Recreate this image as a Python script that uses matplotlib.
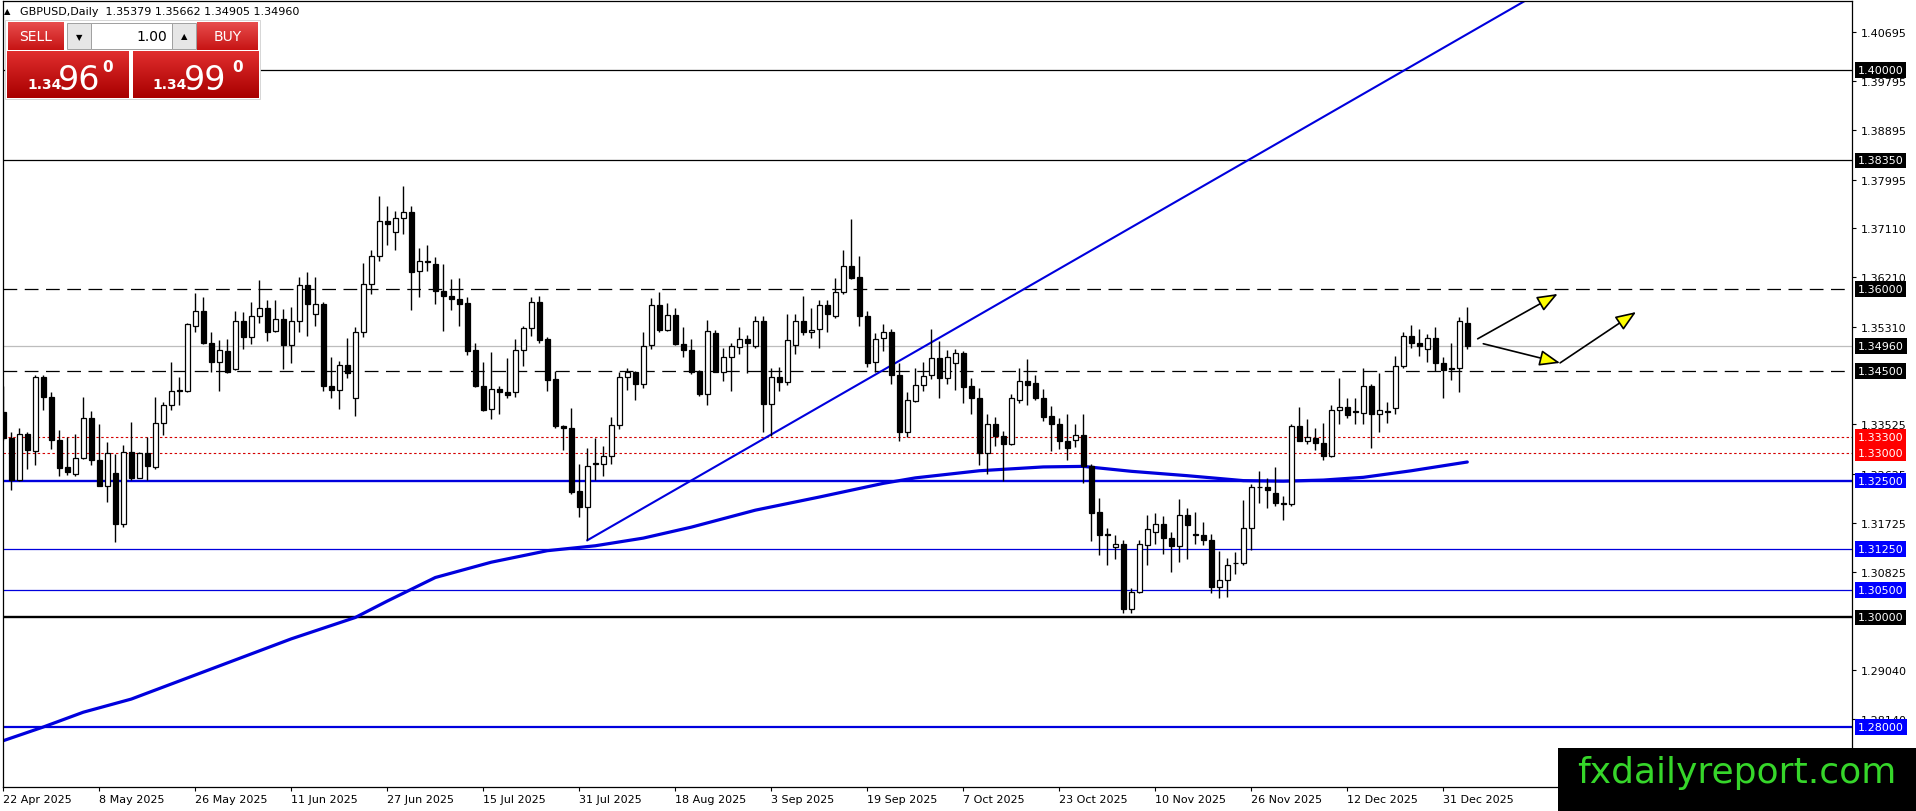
import numpy as np
import matplotlib
matplotlib.use("Agg")
import matplotlib.pyplot as plt
from matplotlib.patches import Rectangle
from matplotlib.transforms import blended_transform_factory, offset_copy

W_PX, H_PX = 1916, 812

# daily GBPUSD candles, bar 0 = 22 Apr 2025
opens = [
    1.3376, 1.3327, 1.3251, 1.3336, 1.3304, 1.3439, 1.3403, 1.3325, 1.3274, 1.3262,
    1.3291, 1.3365, 1.3288, 1.3241, 1.3263, 1.3170, 1.3302, 1.3255, 1.3301, 1.3275,
    1.3356, 1.3389, 1.3414, 1.3414, 1.3532, 1.3559, 1.3502, 1.3466, 1.3486, 1.3453,
    1.3541, 1.3513, 1.3550, 1.3566, 1.3524, 1.3546, 1.3497, 1.3541, 1.3608, 1.3554,
    1.3573, 1.3423, 1.3416, 1.3461, 1.3401, 1.3521, 1.3610, 1.3660, 1.3724, 1.3704,
    1.3730, 1.3741, 1.3632, 1.3651, 1.3646, 1.3597, 1.3587, 1.3582, 1.3574, 1.3488,
    1.3422, 1.3380, 1.3417, 1.3412, 1.3411, 1.3488, 1.3529, 1.3577, 1.3508, 1.3435,
    1.3350, 1.3347, 1.3231, 1.3202, 1.3282, 1.3280, 1.3295, 1.3351, 1.3440, 1.3449,
    1.3426, 1.3497, 1.3571, 1.3525, 1.3552, 1.3500, 1.3488, 1.3451, 1.3408, 1.3519,
    1.3449, 1.3475, 1.3494, 1.3508, 1.3495, 1.3541, 1.3390, 1.3440, 1.3431, 1.3497,
    1.3541, 1.3522, 1.3527, 1.3570, 1.3550, 1.3594, 1.3642, 1.3621, 1.3550, 1.3467,
    1.3510, 1.3522, 1.3443, 1.3339, 1.3395, 1.3425, 1.3442, 1.3474, 1.3438, 1.3464,
    1.3483, 1.3423, 1.3401, 1.3301, 1.3354, 1.3331, 1.3316, 1.3398, 1.3432, 1.3429,
    1.3401, 1.3368, 1.3354, 1.3322, 1.3324, 1.3333, 1.3276, 1.3192, 1.3152, 1.3129,
    1.3134, 1.3015, 1.3047, 1.3133, 1.3156, 1.3171, 1.3146, 1.3130, 1.3188, 1.3152,
    1.3151, 1.3142, 1.3056, 1.3068, 1.3099, 1.3099, 1.3163, 1.3238, 1.3238, 1.3227,
    1.3210, 1.3208, 1.3350, 1.3323, 1.3328, 1.3319, 1.3295, 1.3379, 1.3385, 1.3377,
    1.3373, 1.3422, 1.3371, 1.3378, 1.3382, 1.3459, 1.3514, 1.3501, 1.3491, 1.3510,
    1.3464, 1.3455, 1.3455, 1.35379]
highs = [
    1.3422, 1.3338, 1.3347, 1.3339, 1.3442, 1.3442, 1.3412, 1.3343, 1.3329, 1.3335,
    1.3403, 1.3377, 1.3354, 1.3321, 1.3298, 1.3315, 1.3357, 1.3303, 1.3329, 1.3402,
    1.3394, 1.3467, 1.3440, 1.3537, 1.3593, 1.3585, 1.3522, 1.3507, 1.3509, 1.3560,
    1.3558, 1.3577, 1.3617, 1.3580, 1.3579, 1.3563, 1.3567, 1.3621, 1.3631, 1.3621,
    1.3577, 1.3475, 1.3469, 1.3510, 1.3530, 1.3648, 1.3672, 1.3770, 1.3752, 1.3742,
    1.3788, 1.3752, 1.3674, 1.3680, 1.3659, 1.3646, 1.3618, 1.3620, 1.3586, 1.3502,
    1.3466, 1.3485, 1.3422, 1.3474, 1.3509, 1.3532, 1.3585, 1.3588, 1.3513, 1.3450,
    1.3351, 1.3383, 1.3281, 1.3309, 1.3328, 1.3313, 1.3367, 1.3449, 1.3456, 1.3450,
    1.3522, 1.3584, 1.3594, 1.3574, 1.3565, 1.3530, 1.3508, 1.3452, 1.3543, 1.3525,
    1.3492, 1.3501, 1.3530, 1.3516, 1.3550, 1.3550, 1.3455, 1.3458, 1.3554, 1.3555,
    1.3588, 1.3565, 1.3580, 1.3580, 1.3620, 1.3672, 1.3727, 1.3660, 1.3559, 1.3519,
    1.3536, 1.3527, 1.3464, 1.3412, 1.3456, 1.3467, 1.3527, 1.3505, 1.3488, 1.3491,
    1.3487, 1.3438, 1.3420, 1.3371, 1.3366, 1.3340, 1.3408, 1.3455, 1.3472, 1.3443,
    1.3417, 1.3386, 1.3365, 1.3371, 1.3353, 1.3371, 1.3280, 1.3218, 1.3163, 1.3151,
    1.3141, 1.3053, 1.3142, 1.3188, 1.3191, 1.3185, 1.3156, 1.3216, 1.3200, 1.3192,
    1.3175, 1.3153, 1.3122, 1.3109, 1.3120, 1.3215, 1.3243, 1.3267, 1.3254, 1.3274,
    1.3221, 1.3354, 1.3385, 1.3363, 1.3346, 1.3356, 1.3388, 1.3438, 1.3400, 1.3401,
    1.3456, 1.3426, 1.3447, 1.3393, 1.3478, 1.3521, 1.3535, 1.3527, 1.3518, 1.3531,
    1.3476, 1.3502, 1.3548, 1.35662]
lows = [
    1.3324, 1.3232, 1.3249, 1.3272, 1.3278, 1.3379, 1.3307, 1.3258, 1.3260, 1.3258,
    1.3290, 1.3278, 1.3240, 1.3211, 1.3137, 1.3166, 1.3252, 1.3254, 1.3251, 1.3272,
    1.3333, 1.3379, 1.3388, 1.3411, 1.3522, 1.3499, 1.3449, 1.3414, 1.3447, 1.3452,
    1.3491, 1.3499, 1.3538, 1.3505, 1.3522, 1.3454, 1.3464, 1.3522, 1.3515, 1.3533,
    1.3414, 1.3400, 1.3381, 1.3438, 1.3368, 1.3513, 1.3590, 1.3652, 1.3681, 1.3672,
    1.3701, 1.3561, 1.3585, 1.3632, 1.3573, 1.3524, 1.3562, 1.3532, 1.3480, 1.3421,
    1.3378, 1.3362, 1.3371, 1.3400, 1.3402, 1.3460, 1.3515, 1.3501, 1.3414, 1.3347,
    1.3306, 1.3226, 1.3183, 1.3141, 1.3251, 1.3258, 1.3280, 1.3344, 1.3415, 1.3397,
    1.3420, 1.3491, 1.3521, 1.3524, 1.3498, 1.3476, 1.3445, 1.3405, 1.3388, 1.3448,
    1.3432, 1.3414, 1.3482, 1.3446, 1.3493, 1.3339, 1.3332, 1.3414, 1.3425, 1.3481,
    1.3516, 1.3511, 1.3492, 1.3522, 1.3547, 1.3591, 1.3618, 1.3533, 1.3458, 1.3449,
    1.3486, 1.3426, 1.3323, 1.3329, 1.3393, 1.3414, 1.3436, 1.3400, 1.3427, 1.3415,
    1.3391, 1.3371, 1.3279, 1.3262, 1.3314, 1.3249, 1.3315, 1.3391, 1.3389, 1.3398,
    1.3359, 1.3305, 1.3307, 1.3287, 1.3311, 1.3246, 1.3139, 1.3114, 1.3096, 1.3107,
    1.3009, 1.3009, 1.3045, 1.3095, 1.3134, 1.3116, 1.3084, 1.3101, 1.3107, 1.3134,
    1.3133, 1.3044, 1.3036, 1.3038, 1.3079, 1.3095, 1.3123, 1.3209, 1.3200, 1.3204,
    1.3178, 1.3203, 1.3322, 1.3316, 1.3306, 1.3287, 1.3293, 1.3354, 1.3364, 1.3354,
    1.3354, 1.3310, 1.3339, 1.3356, 1.3372, 1.3455, 1.3492, 1.3477, 1.3467, 1.3450,
    1.3400, 1.3433, 1.3412, 1.34905]
closes = [
    1.3327, 1.3251, 1.3336, 1.3306, 1.3439, 1.3403, 1.3324, 1.3273, 1.3266, 1.3291,
    1.3365, 1.3287, 1.3241, 1.3301, 1.3170, 1.3302, 1.3255, 1.3301, 1.3276, 1.3356,
    1.3389, 1.3414, 1.3415, 1.3536, 1.3559, 1.3502, 1.3466, 1.3488, 1.3449, 1.3541,
    1.3513, 1.3550, 1.3566, 1.3522, 1.3546, 1.3497, 1.3541, 1.3608, 1.3573, 1.3573,
    1.3423, 1.3415, 1.3461, 1.3446, 1.3521, 1.3610, 1.3660, 1.3724, 1.3719, 1.3729,
    1.3741, 1.3631, 1.3651, 1.3649, 1.3597, 1.3588, 1.3582, 1.3573, 1.3487, 1.3422,
    1.3379, 1.3417, 1.3412, 1.3406, 1.3488, 1.3529, 1.3577, 1.3507, 1.3434, 1.3350,
    1.3347, 1.3230, 1.3202, 1.3277, 1.3280, 1.3295, 1.3351, 1.3440, 1.3449, 1.3426,
    1.3495, 1.3571, 1.3525, 1.3552, 1.3500, 1.3488, 1.3449, 1.3408, 1.3524, 1.3449,
    1.3475, 1.3495, 1.3508, 1.3501, 1.3541, 1.3390, 1.3440, 1.3431, 1.3506, 1.3541,
    1.3522, 1.3525, 1.3570, 1.3555, 1.3594, 1.3642, 1.3620, 1.3550, 1.3464, 1.3509,
    1.3521, 1.3442, 1.3339, 1.3398, 1.3425, 1.3441, 1.3474, 1.3437, 1.3476, 1.3483,
    1.3421, 1.3400, 1.3301, 1.3354, 1.3331, 1.3316, 1.3400, 1.3432, 1.3425, 1.3400,
    1.3366, 1.3354, 1.3322, 1.3309, 1.3333, 1.3276, 1.3191, 1.3150, 1.3150, 1.3134,
    1.3015, 1.3047, 1.3134, 1.3161, 1.3171, 1.3146, 1.3130, 1.3188, 1.3169, 1.3150,
    1.3142, 1.3056, 1.3068, 1.3095, 1.3100, 1.3163, 1.3238, 1.3239, 1.3232, 1.3209,
    1.3208, 1.3350, 1.3323, 1.3329, 1.3318, 1.3295, 1.3379, 1.3385, 1.3370, 1.3375,
    1.3422, 1.3371, 1.3379, 1.3375, 1.3459, 1.3514, 1.3501, 1.3496, 1.3511, 1.3464,
    1.3452, 1.3454, 1.3541, 1.34960]

# moving average (bar index, value)
ma_bars = [0, 5, 10, 16, 22, 30, 36, 44, 48, 54, 61, 68, 74, 80, 86, 94, 102, 110,
           114, 122, 130, 135, 141, 148, 155, 160, 165, 170, 176, 183]
ma_vals = [1.2775, 1.2800, 1.2827, 1.2851, 1.2884, 1.2928, 1.2961, 1.3000, 1.3030,
           1.3073, 1.3101, 1.3122, 1.3131, 1.3145, 1.3165, 1.3196, 1.3220, 1.3245,
           1.3255, 1.3268, 1.3275, 1.3276, 1.3267, 1.3259, 1.3250, 1.3249, 1.3251,
           1.3256, 1.3268, 1.3284]

# trendline from the 31 Jul low
trend_bars = [73, 110]
trend_vals = [1.3141, 1.3452]

levels = [1.40, 1.3835, 1.36, 1.3496, 1.345, 1.333, 1.330, 1.325, 1.3125, 1.305, 1.30, 1.28]
ytick_vals = [1.40695, 1.39795, 1.38895, 1.37995, 1.37110, 1.36210, 1.35310,
              1.33525, 1.32625, 1.31725, 1.30825, 1.29040, 1.28140]
date_labels = ["22 Apr 2025", "8 May 2025", "26 May 2025", "11 Jun 2025", "27 Jun 2025",
               "15 Jul 2025", "31 Jul 2025", "18 Aug 2025", "3 Sep 2025", "19 Sep 2025",
               "7 Oct 2025", "23 Oct 2025", "10 Nov 2025", "26 Nov 2025", "12 Dec 2025",
               "31 Dec 2025"]
arrow_starts = [(184.3, 1.3509), (185.0, 1.3500), (194.6, 1.3465)]
arrow_ends = [(194.3, 1.3591), (194.6, 1.3465), (204.1, 1.3558)]

BLUE = "#0000dd"
# level -> (line colour, lw, dashes, label background)
style = {
    1.40: ("black", 0.9, None, "black"),
    1.3835: ("black", 0.9, None, "black"),
    1.36: ("black", 0.9, (11, 6), "black"),
    1.3496: ("#bdbdbd", 0.9, None, "black"),
    1.345: ("black", 0.9, (11, 6), "black"),
    1.333: ("#d40000", 0.8, (2.2, 2.2), "#ff0000"),
    1.330: ("#d40000", 0.8, (2.2, 2.2), "#ff0000"),
    1.325: (BLUE, 1.7, None, "#0000ff"),
    1.3125: (BLUE, 0.9, None, "#0000ff"),
    1.305: (BLUE, 0.9, None, "#0000ff"),
    1.30: ("black", 1.7, None, "black"),
    1.28: (BLUE, 1.6, None, "#0000ff"),
}

fig = plt.figure(figsize=(W_PX / 100, H_PX / 100), dpi=100)
ax = fig.add_axes([3 / W_PX, 24 / H_PX, 1849 / W_PX, 786 / H_PX])
xmin, xmax = -0.0375, 231.09
ax.set_xlim(xmin, xmax)
ax.set_ylim(1.26904, 1.41260)

for lvl in levels:
    col, lw, dash, _ = style[lvl]
    ln, = ax.plot([xmin, xmax], [lvl, lvl], color=col, lw=lw, zorder=1)
    if dash:
        ln.set_dashes(dash)

ax.plot(ma_bars, ma_vals, color=BLUE, lw=2.3, zorder=2, solid_capstyle="round",
        solid_joinstyle="round")

slope = (trend_vals[1] - trend_vals[0]) / (trend_bars[1] - trend_bars[0])
ax.plot([trend_bars[0], xmax], [trend_vals[0], trend_vals[0] + slope * (xmax - trend_bars[0])],
        color=BLUE, lw=1.5, zorder=2)

o = np.array(opens); h = np.array(highs); l = np.array(lows); c = np.array(closes)
idx = np.arange(len(o))
bull = c >= o
ax.vlines(idx, l, h, color="black", lw=1.0, zorder=3)
bottom = np.minimum(o, c)
height = np.maximum(np.abs(c - o), 0.00002)
ax.bar(idx, height, bottom=bottom, width=0.6, color=np.where(bull, "white", "black"),
       edgecolor="black", linewidth=0.9, zorder=4)

for s, e in zip(arrow_starts, arrow_ends):
    ax.annotate("", xy=e, xytext=s, annotation_clip=False,
                arrowprops=dict(arrowstyle="-|>,head_length=0.9,head_width=0.35",
                                fc="#ffff00", ec="black", lw=1.2, mutation_scale=14,
                                shrinkA=0, shrinkB=0), zorder=5)

for sp in ax.spines.values():
    sp.set_linewidth(0.9)
    sp.set_color("black")
ax.yaxis.tick_right()
ax.set_yticks(ytick_vals)
ax.set_yticklabels([f"{v:.5f}" for v in ytick_vals])
ax.tick_params(axis="y", length=3, pad=3, labelsize=8, width=0.8)
ax.set_xticks(range(0, 12 * len(date_labels), 12))
ax.set_xticklabels(date_labels, ha="left")
ax.tick_params(axis="x", length=3, pad=2, labelsize=8, width=0.8)

lab_tr = offset_copy(blended_transform_factory(ax.transAxes, ax.transData), fig=fig,
                     x=4.3, y=0, units="points")
for lvl in levels:
    ax.text(1, lvl, f"{lvl:.5f}", transform=lab_tr, ha="left", va="center", fontsize=8,
            color="white", clip_on=False, zorder=6,
            bbox=dict(boxstyle="square,pad=0.25", fc=style[lvl][3], ec="none"))

# overlay in pixel coordinates: header, trade panel, watermark
ov = fig.add_axes([0, 0, 1, 1], zorder=10)
ov.patch.set_alpha(0)
ov.axis("off")


def grad_box(x0, y0, x1, y1, top, bot):
    g = np.linspace(0, 1, 40)[:, None, None]
    img = (1 - g) * np.array(top) + g * np.array(bot)
    ov.imshow(img, extent=(x0, x1, y1, y0), aspect="auto", interpolation="bilinear", zorder=2)


ov.add_patch(Rectangle((5, 21), 255, 79, fc="white", ec="#d0d0d0", lw=0.6, zorder=1))
grad_box(8, 23, 64, 51, (0.91, 0.30, 0.30), (0.78, 0.08, 0.08))
grad_box(197, 23, 258, 51, (0.91, 0.30, 0.30), (0.78, 0.08, 0.08))
grad_box(7, 52, 129, 99, (0.88, 0.18, 0.18), (0.66, 0.0, 0.0))
grad_box(133, 52, 259, 99, (0.88, 0.18, 0.18), (0.66, 0.0, 0.0))
ov.add_patch(Rectangle((67, 24), 24, 26, fc="#e6e6e6", ec="#a0a0a0", lw=0.7, zorder=2))
ov.add_patch(Rectangle((91, 24), 81, 26, fc="white", ec="#a0a0a0", lw=0.7, zorder=2))
ov.add_patch(Rectangle((172, 24), 24, 26, fc="#e6e6e6", ec="#a0a0a0", lw=0.7, zorder=2))

ov.text(36, 37, "SELL", color="white", fontsize=10, ha="center", va="center", zorder=3)
ov.text(228, 37, "BUY", color="white", fontsize=10, ha="center", va="center", zorder=3)
ov.text(167, 37, "1.00", color="black", fontsize=10, ha="right", va="center", zorder=3)
ov.text(79, 38, "▼", color="black", fontsize=6, ha="center", va="center", zorder=3)
ov.text(184, 37, "▲", color="black", fontsize=6, ha="center", va="center", zorder=3)
ov.text(27, 89, "1.34", color="white", fontsize=10, fontweight="bold", ha="left", va="baseline", zorder=3)
ov.text(58, 90, "96", color="white", fontsize=24, ha="left", va="baseline", zorder=3)
ov.text(102, 72, "0", color="white", fontsize=11, fontweight="bold", ha="left", va="baseline", zorder=3)
ov.text(152, 89, "1.34", color="white", fontsize=10, fontweight="bold", ha="left", va="baseline", zorder=3)
ov.text(184, 90, "99", color="white", fontsize=24, ha="left", va="baseline", zorder=3)
ov.text(232, 72, "0", color="white", fontsize=11, fontweight="bold", ha="left", va="baseline", zorder=3)

ov.text(4, 12, "▲", fontsize=6, ha="left", va="center", color="black")
ov.text(20, 12, "GBPUSD,Daily  1.35379 1.35662 1.34905 1.34960", fontsize=8,
        ha="left", va="center", color="black")

ov.add_patch(Rectangle((1558, 749), 358, 63, fc="black", ec="none", zorder=4))
ov.text(1737, 783, "fxdailyreport.com", color="#36d62a", fontsize=26, ha="center",
        va="baseline", family="DejaVu Sans", zorder=5)

ov.set_xlim(0, W_PX)
ov.set_ylim(H_PX, 0)

fig.savefig("out.png", dpi=100)
